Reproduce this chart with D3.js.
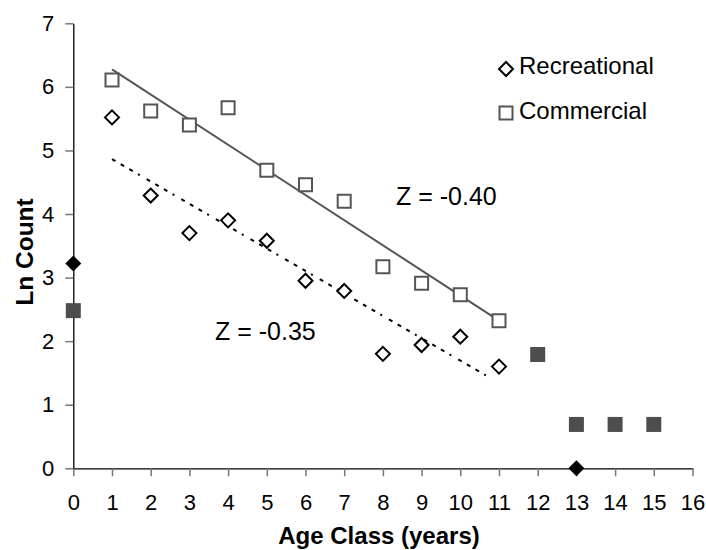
<!DOCTYPE html>
<html>
<head>
<meta charset="utf-8">
<script src="https://cdn.jsdelivr.net/npm/d3@7"></script>
<style>
  html, body { margin: 0; padding: 0; background: #fff; }
  svg { display: block; font-family: "Liberation Sans", Arial, sans-serif; }
</style>
</head>
<body>
<svg id="chart" width="706" height="550"></svg>
<script>
// Catch-curve data: ln(count) by age class
const ageClasses = [1, 2, 3, 4, 5, 6, 7, 8, 9, 10, 11];
const commercialLn = [6.11, 5.62, 5.40, 5.67, 4.69, 4.46, 4.20, 3.17, 2.91, 2.73, 2.32];
const recreationalLn = [5.52, 4.29, 3.70, 3.90, 3.58, 2.95, 2.79, 1.80, 1.94, 2.07, 1.60];

// Age classes left out of the regressions
const commercialExcludedAge = [0, 12, 13, 14, 15];
const commercialExcludedLn = [2.48, 1.79, 0.69, 0.69, 0.69];
const recreationalExcludedAge = [0, 13];
const recreationalExcludedLn = [3.22, 0];

const xTicks = d3.range(0, 17);
const yTicks = d3.range(0, 8);
const seriesNames = ["Recreational", "Commercial"];
const slopeLabels = ["Z = -0.40", "Z = -0.35"];

const svg = d3.select("#chart");
const x = d3.scaleLinear().domain([0, 16]).range([73.3, 692.5]);
const y = d3.scaleLinear().domain([0, 7]).range([468.3, 23.3]);

// Least-squares fit over the included age classes
function fit(xs, ys) {
  const mx = d3.mean(xs), my = d3.mean(ys);
  let sxy = 0, sxx = 0;
  xs.forEach((v, i) => { sxy += (v - mx) * (ys[i] - my); sxx += (v - mx) * (v - mx); });
  const b = sxy / sxx;
  return { b, a: my - b * mx };
}

// Axes
const xAxis = svg.append("g").attr("transform", `translate(0,${y(0)})`)
  .call(d3.axisBottom(x).tickValues(xTicks).tickSize(8).tickSizeOuter(0).tickFormat(d3.format("d")));
const yAxis = svg.append("g").attr("transform", `translate(${x(0)},0)`)
  .call(d3.axisLeft(y).tickValues(yTicks).tickSize(8).tickSizeOuter(0).tickFormat(d3.format("d")));
[xAxis, yAxis].forEach(g => {
  g.attr("font-size", 22).attr("font-family", "'Liberation Sans', Arial, sans-serif");
  g.select(".domain").attr("stroke", "#000").attr("stroke-width", 1.3);
  g.selectAll(".tick line").attr("stroke", "#777").attr("stroke-width", 1.5);
  g.selectAll(".tick text").attr("fill", "#000");
});
xAxis.selectAll(".tick text").attr("dy", "0.71em").attr("y", 26);
yAxis.selectAll(".tick text").attr("x", -19);

// Regression lines
const cf = fit(ageClasses, commercialLn);
const rf = fit(ageClasses, recreationalLn);
const line = d3.line().x(d => x(d[0])).y(d => y(d[1]));
const x0 = d3.min(ageClasses), x1 = d3.max(ageClasses);
svg.append("path")
  .attr("d", line([[x0, cf.a + cf.b * x0], [x1, cf.a + cf.b * x1]]))
  .attr("stroke", "#555").attr("stroke-width", 2).attr("fill", "none");
svg.append("path")
  .attr("d", line([[x0, rf.a + rf.b * x0], [x1 - 0.2, rf.a + rf.b * (x1 - 0.2)]]))
  .attr("stroke", "#000").attr("stroke-width", 2).attr("fill", "none")
  .attr("stroke-dasharray", "4,6,4,6,4,6,2,8");

// Marker shapes
const diamond = s => `M0,${-s}L${s},0L0,${s}L${-s},0Z`;
const square = s => `M${-s},${-s}H${s}V${s}H${-s}Z`;

// Commercial (open squares)
svg.append("g").selectAll("path").data(ageClasses).join("path")
  .attr("transform", (d, i) => `translate(${x(d)},${y(commercialLn[i])})`)
  .attr("d", square(6.5)).attr("fill", "#fff").attr("stroke", "#555").attr("stroke-width", 2);
// Recreational (open diamonds)
svg.append("g").selectAll("path").data(ageClasses).join("path")
  .attr("transform", (d, i) => `translate(${x(d)},${y(recreationalLn[i])})`)
  .attr("d", diamond(7)).attr("fill", "#fff").attr("stroke", "#000").attr("stroke-width", 2);

// Excluded points (filled)
svg.append("g").selectAll("path").data(commercialExcludedAge).join("path")
  .attr("transform", (d, i) => `translate(${x(d)},${y(commercialExcludedLn[i])})`)
  .attr("d", square(7.5)).attr("fill", "#4d4d4d");
svg.append("g").selectAll("path").data(recreationalExcludedAge).join("path")
  .attr("transform", (d, i) => `translate(${x(d)},${y(recreationalExcludedLn[i])})`)
  .attr("d", diamond(8)).attr("fill", "#000");

// Legend
const legend = svg.append("g");
legend.append("path").attr("transform", "translate(506,69)").attr("d", diamond(7))
  .attr("fill", "#fff").attr("stroke", "#000").attr("stroke-width", 2);
legend.append("path").attr("transform", "translate(506,113)").attr("d", square(6.5))
  .attr("fill", "#fff").attr("stroke", "#555").attr("stroke-width", 2);
legend.selectAll("text").data(seriesNames).join("text")
  .attr("x", 519).attr("y", (d, i) => 74 + i * 45)
  .attr("font-size", 24).text(d => d);

// Slope annotations
svg.append("text").attr("x", 396).attr("y", 205).attr("font-size", 25).text(slopeLabels[0]);
svg.append("text").attr("x", 215).attr("y", 340).attr("font-size", 25).text(slopeLabels[1]);

// Axis titles
svg.append("text").attr("x", 379).attr("y", 544).attr("text-anchor", "middle")
  .attr("font-size", 24).attr("font-weight", "bold").text("Age Class (years)");
svg.append("text").attr("transform", "translate(33,252) rotate(-90)").attr("text-anchor", "middle")
  .attr("font-size", 24.5).attr("font-weight", "bold").text("Ln Count");
</script>
</body>
</html>
